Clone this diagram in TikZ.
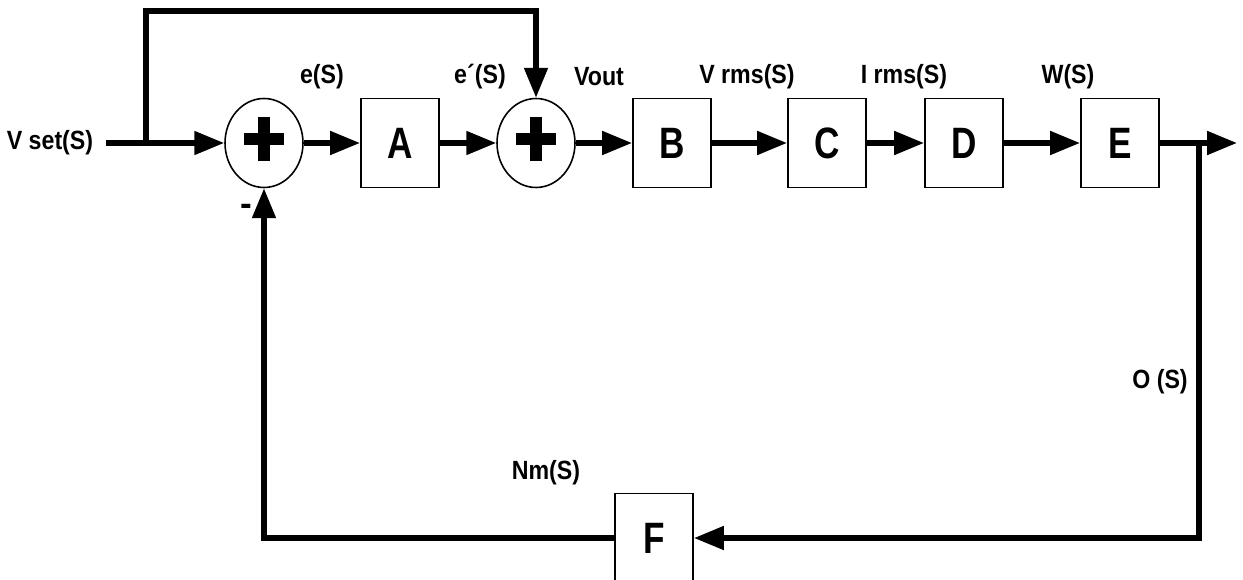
\documentclass[tikz,border=0pt]{standalone}
\usepackage{fontspec}
\setmainfont{Liberation Sans}
\newfontfamily\labelfont{Liberation Sans}[FakeStretch=0.88]
\newfontfamily\blockfont{Liberation Sans}[FakeStretch=0.8]
\usetikzlibrary{arrows.meta,shapes.geometric,calc}

\tikzset{
  blk/.style={draw,line width=1.1pt,minimum width=1.56cm,minimum height=1.78cm,inner sep=0pt,font=\blockfont\fontsize{25}{25}\selectfont\bfseries},
  sumnode/.style={draw,ellipse,line width=0.9pt,minimum width=1.56cm,minimum height=1.78cm,inner sep=0pt},
  sig/.style={font=\labelfont\fontsize{15}{17}\selectfont\bfseries},
  wire/.style={line width=3pt},
  flow/.style={wire,-{Triangle[length=17pt,width=13pt]}},
}

\begin{document}
\begin{tikzpicture}[x=0.02cm,y=-0.02cm]
    \useasboundingbox (0,0) rectangle (1243,580);
    \node[sig] (vset) at (50,143) {V set(S)};
    \coordinate (in) at (106,143);
    \coordinate (br) at (146,143);
    \coordinate (top) at (146,11);
    \node[sumnode] (s1) at (264,143) {};
    \node[blk] (a) at (400,143) {A};
    \node[sumnode] (s2) at (536,143) {};
    \node[blk] (b) at (672,143) {B};
    \node[blk] (c) at (827,143) {C};
    \node[blk] (d) at (964,143) {D};
    \node[blk] (e) at (1120,143) {E};
    \coordinate (tap) at (1199,143);
    \coordinate (out) at (1237,143);
    \node[blk] (f) at (654,538) {F};
    \foreach \s in {s1,s2} {
        \fill ($(\s)+(-20,-10)$) rectangle ++(40,12);
        \fill ($(\s)+(-6,-26)$) rectangle ++(12,44);
    }
    \draw[wire] (in) -- (br);
    \draw[flow] (br) -- (s1);
    \draw[flow] (br) -- (top) -| (s2);
    \draw[flow] (s1) -- (a);
    \draw[flow] (a) -- (s2);
    \draw[flow] (s2) -- (b);
    \draw[flow] (b) -- (c);
    \draw[flow] (c) -- (d);
    \draw[flow] (d) -- (e);
    \draw[flow] (e) -- (out);
    \draw[flow] (tap) |- (f);
    \draw[flow] (f) -| (s1);
    \node[font=\fontsize{20}{20}\selectfont\bfseries] (minus) at (246,210) {-};
    \node[sig] (es) at (322,77) {e(S)};
    \node[sig] (eps) at (480,77) {e´(S)};
    \node[sig] (vout) at (599,77) {Vout};
    \node[sig] (vrms) at (747,77) {V rms(S)};
    \node[sig] (irms) at (904,77) {I rms(S)};
    \node[sig] (ws) at (1068,77) {W(S)};
    \node[sig] (os) at (1160,382) {O (S)};
    \node[sig] (nm) at (546,473) {Nm(S)};
\end{tikzpicture}
\end{document}
